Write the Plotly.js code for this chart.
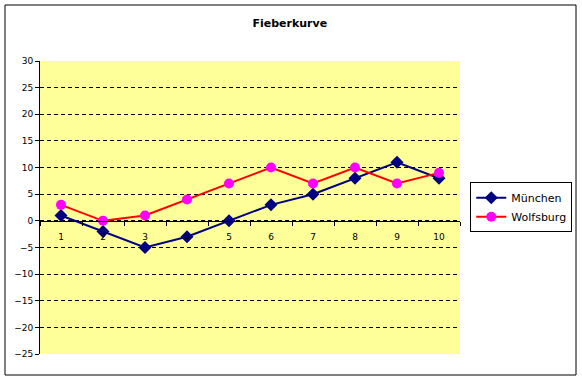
<!DOCTYPE html>
<html>
<head>
<meta charset="utf-8">
<script src="https://cdn.plot.ly/plotly-3.0.1.min.js"></script>
<style>html,body{margin:0;padding:0;background:#fff;}#chart{width:582px;height:381px;}</style>
</head>
<body>
<div id="chart"></div>
<script>
const categories = ["1","2","3","4","5","6","7","8","9","10"];
const muenchen = [1, -2, -5, -3, 0, 3, 5, 8, 11, 8];
const wolfsburg = [3, 0, 1, 4, 7, 10, 7, 10, 7, 9];
const yRange = [-25, 30];
const yTicks = [-25, -20, -15, -10, -5, 0, 5, 10, 15, 20, 25, 30];

const font = "Tahoma, 'DejaVu Sans', Verdana, sans-serif";
const traces = [
  {x: categories, y: muenchen, name: "München", type: "scatter", mode: "lines+markers",
   line: {color: "#000080", width: 2}, marker: {symbol: "diamond", size: 10, color: "#000080"}},
  {x: categories, y: wolfsburg, name: "Wolfsburg", type: "scatter", mode: "lines+markers",
   line: {color: "#FF0000", width: 2}, marker: {symbol: "circle", size: 10, color: "#FF00FF"}}
];
const layout = {
  width: 582, height: 381,
  margin: {l: 40, r: 122, t: 61, b: 27},
  paper_bgcolor: "#ffffff", plot_bgcolor: "#FFFF99",
  font: {family: font, size: 9, color: "#000"},
  title: {text: "<b>Fieberkurve</b>", font: {family: font, size: 11, color: "#000"}, x: 0.498, xanchor: "center", y: 0.94, yanchor: "middle"},
  showlegend: true,
  legend: {xref: "container", yref: "container", x: 0.808, xanchor: "left", y: 0.456, yanchor: "middle",
           bordercolor: "#000", borderwidth: 1,
           bgcolor: "#fff", font: {family: font, size: 11, color: "#000"}, itemwidth: 30, tracegroupgap: 2},
  xaxis: {type: "category", anchor: "free", position: (0 - yRange[0]) / (yRange[1] - yRange[0]),
          showline: true, linecolor: "#000", linewidth: 1, showgrid: false, zeroline: false,
          ticks: "outside", ticklen: 4, tickcolor: "#000", tickson: "boundaries", ticklabelstandoff: 7,
          tickfont: {family: font, size: 9, color: "#000"}, range: [-0.5, 9.5], fixedrange: true},
  yaxis: {range: yRange, tickvals: yTicks, showline: true, linecolor: "#000", linewidth: 1,
          ticks: "outside", ticklen: 4, tickcolor: "#000", showgrid: true, gridcolor: "#000",
          griddash: "4px,3px", gridwidth: 1, zeroline: false,
          tickfont: {family: font, size: 9, color: "#000"}, fixedrange: true},
  shapes: [
    {type: "rect", xref: "paper", yref: "paper", x0: -0.0833, x1: 1.2762, y0: -0.0717, y1: 1.1911,
     line: {color: "#000", width: 1}, fillcolor: "rgba(0,0,0,0)", layer: "below"}
  ]
};
Plotly.newPlot("chart", traces, layout, {displayModeBar: false, staticPlot: true});
</script>
</body>
</html>
